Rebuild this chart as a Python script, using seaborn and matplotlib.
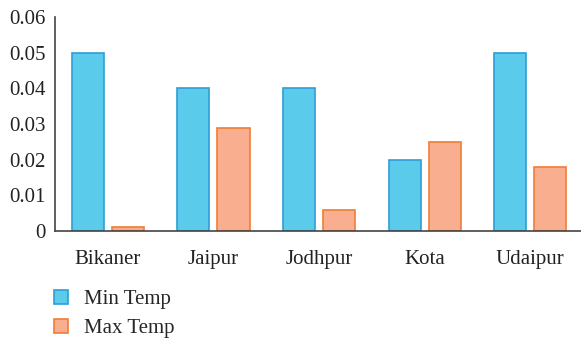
import matplotlib
matplotlib.use("Agg")
import matplotlib.pyplot as plt
from matplotlib.patches import Patch
import seaborn as sns
import pandas as pd

cities = ["Bikaner", "Jaipur", "Jodhpur", "Kota", "Udaipur"]
min_temp = [0.050, 0.040, 0.040, 0.020, 0.050]
max_temp = [0.001, 0.029, 0.006, 0.025, 0.018]
series = ["Min Temp", "Max Temp"]
y_ticks = [0, 0.01, 0.02, 0.03, 0.04, 0.05, 0.06]
y_tick_labels = ["0", "0.01", "0.02", "0.03", "0.04", "0.05", "0.06"]

fills = {"Min Temp": "#5BCBEC", "Max Temp": "#F9AE8F"}
edges = {"Min Temp": "#2E9ED6", "Max Temp": "#F07D34"}

df = pd.DataFrame({
    "City": cities * 2,
    "Series": [series[0]] * len(cities) + [series[1]] * len(cities),
    "Value": min_temp + max_temp,
})

sns.set_theme(style="white")
plt.rcParams["font.family"] = ["Liberation Serif", "DejaVu Serif"]

fig = plt.figure(figsize=(5.81, 3.43), dpi=100)
ax = fig.add_axes([0.0947, 0.3265, 0.9053, 0.624])

sns.barplot(data=df, x="City", y="Value", hue="Series", order=cities,
            hue_order=series, palette=fills, saturation=1, width=0.76,
            gap=0.2, errorbar=None, legend=False, ax=ax, linewidth=1.2)

# outline each bar in its series' stroke colour
for container, name in zip(ax.containers, series):
    for bar in container:
        bar.set_edgecolor(edges[name])
        bar.set_linewidth(1.2)

ax.set_xlim(-0.5, 4.48)
ax.set_ylim(0, 0.06)
ax.set_yticks(y_ticks)
ax.set_yticklabels(y_tick_labels)
ax.set_xlabel("")
ax.set_ylabel("")
ax.tick_params(axis="both", length=0, labelsize=15, colors="#222222")
ax.tick_params(axis="x", pad=14)
ax.tick_params(axis="y", pad=7)

for side in ["top", "right"]:
    ax.spines[side].set_visible(False)
for side in ["left", "bottom"]:
    ax.spines[side].set_color("#444444")
    ax.spines[side].set_linewidth(1.2)

handles = [Patch(facecolor=fills[s], edgecolor=edges[s], linewidth=1.2, label=s)
           for s in series]
fig.legend(handles=handles, loc="upper left", bbox_to_anchor=(0.078, 0.18),
           frameon=False, fontsize=15, handlelength=0.7, handleheight=0.7,
           handletextpad=0.75, labelspacing=0.45, borderaxespad=0)

fig.savefig("out.png", dpi=100)
